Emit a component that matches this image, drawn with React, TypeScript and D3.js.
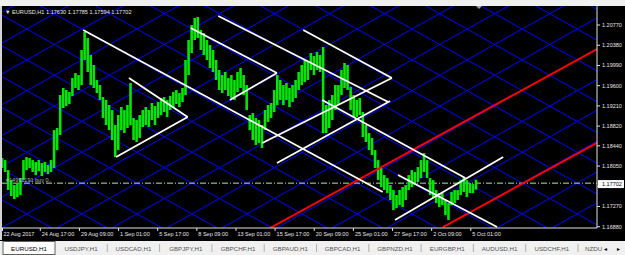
import React from "react";
import * as d3 from "d3";

const timeLabels = ["22 Aug 2017", "24 Aug 17:00", "29 Aug 09:00", "1 Sep 01:00", "5 Sep 17:00", "8 Sep 09:00", "13 Sep 01:00", "15 Sep 17:00", "20 Sep 09:00", "25 Sep 01:00", "27 Sep 17:00", "2 Oct 09:00", "5 Oct 01:00"];
const timeLabelBars = [0, 65, 129, 193, 257, 321, 385, 449, 513, 577, 641, 705, 769];
const priceTicks = [1.2077, 1.2038, 1.1999, 1.196, 1.1921, 1.1882, 1.1844, 1.1805, 1.1766, 1.1727, 1.1688];
const priceTickLabels = ["1.20770", "1.20380", "1.19990", "1.19600", "1.19210", "1.18820", "1.18440", "1.18050", "1.17660", "1.17270", "1.16880"];

const barsPerBlock = 5;
const blockHigh = [
  1.18204, 1.18165, 1.17972, 1.17779, 1.17683, 1.17722, 1.17818, 1.18165, 1.18223, 1.18204,
  1.18165, 1.18127, 1.18165, 1.18108, 1.18127, 1.18069, 1.18165, 1.18744, 1.18783, 1.19419,
  1.19555, 1.19516, 1.19477, 1.19747, 1.19844, 1.19805, 1.20288, 1.20635, 1.20519, 1.20191,
  1.19998, 1.19709, 1.19612, 1.19381, 1.19323, 1.19227, 1.1913, 1.18841, 1.19034, 1.19188,
  1.1913, 1.19227, 1.19651, 1.18976, 1.18937, 1.19034, 1.1913, 1.19188, 1.1913, 1.19265,
  1.19207, 1.19284, 1.19362, 1.19381, 1.19323, 1.194, 1.19477, 1.19516, 1.19458, 1.19555,
  1.20095, 1.2048, 1.2077, 1.20905, 1.20924, 1.20673, 1.20615, 1.2048, 1.20384, 1.20288,
  1.20095, 1.19902, 1.19805, 1.19863, 1.19747, 1.19805, 1.19709, 1.19863, 1.1994, 1.19805,
  1.19612, 1.19034, 1.19072, 1.18976, 1.18937, 1.18841, 1.1913, 1.19227, 1.19265, 1.19516,
  1.19805, 1.19709, 1.19612, 1.19651, 1.19555, 1.19612, 1.19709, 1.19863, 1.19998, 1.20095,
  1.20056, 1.2023, 1.20172, 1.20249, 1.20191, 1.20345, 1.19227, 1.19323, 1.19419, 1.19612,
  1.19612, 1.19902, 1.20037, 1.19998, 1.19574, 1.19419, 1.19323, 1.19362, 1.19092, 1.18841,
  1.18686, 1.1859, 1.18358, 1.18165, 1.18011, 1.17876, 1.17818, 1.17683, 1.17587, 1.1749,
  1.17587, 1.17645, 1.17683, 1.17876, 1.17972, 1.17934, 1.1803, 1.18165, 1.18301, 1.18165,
  1.17818, 1.17779, 1.17587, 1.17529, 1.17529, 1.17394, 1.17336, 1.17548, 1.17587, 1.17587,
  1.17779, 1.17837, 1.17779, 1.17722, 1.17702, 1.17785
];
const blockLow = [
  1.18011, 1.17934, 1.17587, 1.17471, 1.17413, 1.17452, 1.1749, 1.17779, 1.17972, 1.18011,
  1.17934, 1.17876, 1.17953, 1.17857, 1.17934, 1.17895, 1.17934, 1.18011, 1.18358, 1.18648,
  1.19169, 1.19207, 1.19246, 1.194, 1.19555, 1.19516, 1.19612, 1.20095, 1.19863, 1.19612,
  1.19555, 1.19458, 1.19323, 1.18976, 1.18841, 1.18744, 1.18551, 1.18223, 1.18358, 1.18744,
  1.18686, 1.18783, 1.18841, 1.18551, 1.18513, 1.1859, 1.18802, 1.18841, 1.18802, 1.18937,
  1.18841, 1.18976, 1.19034, 1.19092, 1.18995, 1.1913, 1.19188, 1.19246, 1.19188, 1.19284,
  1.19419, 1.19805, 1.2023, 1.2048, 1.20519, 1.20288, 1.20191, 1.20095, 1.1994, 1.19863,
  1.19709, 1.19516, 1.19458, 1.19516, 1.194, 1.19362, 1.19323, 1.19477, 1.19555, 1.19419,
  1.1913, 1.18744, 1.18551, 1.18455, 1.18494, 1.18397, 1.18744, 1.18899, 1.18976, 1.19092,
  1.19227, 1.19323, 1.19227, 1.19323, 1.19188, 1.19284, 1.19362, 1.19516, 1.19612, 1.1967,
  1.19709, 1.19902, 1.19805, 1.19902, 1.19863, 1.18686, 1.18686, 1.18783, 1.18937, 1.1913,
  1.19227, 1.19419, 1.19555, 1.19516, 1.1913, 1.18995, 1.18995, 1.19034, 1.18609, 1.18513,
  1.18358, 1.18262, 1.18011, 1.17779, 1.17645, 1.17587, 1.17529, 1.17394, 1.17201, 1.17239,
  1.17297, 1.17259, 1.17394, 1.17587, 1.17645, 1.17683, 1.17741, 1.17818, 1.17934, 1.17818,
  1.1749, 1.17452, 1.17336, 1.17259, 1.17297, 1.17104, 1.17008, 1.17297, 1.17336, 1.17394,
  1.1749, 1.17548, 1.17452, 1.17529, 1.17529, 1.17594
];

const quote = ["1.17630", "1.17785", "1.17594", "1.17702"];
const bidPrice = 1.17702;
const orderPrice = 1.1772;
const orderLabel = "#14992191 buy 0..";

// trendlines: [bar1, price1, bar2, price2]
const trendLines: number[][] = [
  [135, 1.20673, 625, 1.17548],
  [210, 1.19747, 306, 1.18995],
  [189, 1.18223, 306, 1.18995],
  [311, 1.20712, 452, 1.19844],
  [375, 1.19323, 452, 1.19844],
  [356, 1.20943, 634, 1.19284],
  [428, 1.18494, 640, 1.19747],
  [526, 1.19323, 760, 1.17818],
  [452, 1.18108, 637, 1.19304],
  [495, 1.20673, 640, 1.19747],
  [650, 1.17876, 812, 1.16873],
  [645, 1.17008, 822, 1.18223],
];
// red channel rays: [bar1, price1, bar2, price2]
const channelLines: number[][] = [
  [440.6, 1.16854, 975, 1.20301],
  [723.5, 1.16873, 975, 1.18495],
];
// Gann grid: anchor bar, anchor price, step in bars, slope in price per bar
const gannAnchorBar = 943;
const gannAnchorPrice = 1.17722;
const gannStepBars = 90;
const gannSlope = 0.000066;

const tabNames = ["EURUSD,H1", "USDJPY,H1", "USDCAD,H1", "GBPJPY,H1", "GBPCHF,H1", "GBPAUD,H1", "GBPCAD,H1", "GBPNZD,H1", "EURGBP,H1", "AUDUSD,H1", "USDCHF,H1", "NZDU"];

const PL = 2, PR = 597, PT = 6, PB = 228;
const FONT = "'Liberation Sans', Arial, sans-serif";

export default function App() {
  const x = d3.scaleLinear().domain([0, 100]).range([0.55, 0.55 + 61.15]);
  const y = d3.scaleLinear().domain([1.2077, 1.1688]).range([25, 226.7]);
  const line = d3.line<number[]>().x((d) => x(d[0])).y((d) => y(d[1]));

  const gann: number[][][] = [];
  const b0 = -200, b1 = 1200;
  for (let k = -30; k <= 30; k++) {
    const off = gannAnchorBar + k * gannStepBars;
    gann.push([[b0, gannAnchorPrice + gannSlope * (b0 - off)], [b1, gannAnchorPrice + gannSlope * (b1 - off)]]);
    gann.push([[b0, gannAnchorPrice - gannSlope * (b0 - off)], [b1, gannAnchorPrice - gannSlope * (b1 - off)]]);
  }

  const ext = (l: number[], to: number) => {
    const s = (l[3] - l[1]) / (l[2] - l[0]);
    return [[l[0], l[1]], [to, l[1] + s * (to - l[0])]];
  };

  const tabW = 52.3;
  const bw = x(barsPerBlock) - x(0);

  return (
    <svg width={625} height={255} style={{ position: "absolute", left: 0, top: 0, display: "block" }}>
      <defs>
        <clipPath id="plot">
          <rect x={PL} y={PT} width={PR - PL} height={PB - PT} />
        </clipPath>
      </defs>
      <rect x={0} y={0} width={625} height={255} fill="#000" />
      <rect x={0} y={0} width={625} height={PT} fill="#f0f0f0" />
      <rect x={0} y={PT} width={PL} height={240 - PT} fill="#d4d4d4" />

      <g clipPath="url(#plot)">
        {gann.map((g, i) => (
          <path key={"g" + i} d={line(g) || ""} stroke="#0000ff" strokeWidth={1} fill="none" />
        ))}
        <line x1={PL} x2={PR} y1={y(orderPrice)} y2={y(orderPrice)} stroke="#a8e8a8" strokeWidth={1} strokeDasharray="6,2,1,2" />
        {blockHigh.map((h, i) => {
          const cx = x(i * barsPerBlock + barsPerBlock / 2);
          return (
            <rect key={"b" + i} x={cx - bw * 0.42} y={y(h)} width={bw * 0.84} height={Math.max(1, y(blockLow[i]) - y(h))} fill="#00e800" />
          );
        })}
        {channelLines.map((l, i) => (
          <path key={"c" + i} d={line(ext(l, 1100)) || ""} stroke="#ff0000" strokeWidth={2} fill="none" />
        ))}
        {trendLines.map((l, i) => (
          <path key={"t" + i} d={line([[l[0], l[1]], [l[2], l[3]]]) || ""} stroke="#ffffff" strokeWidth={1.8} fill="none" />
        ))}
      </g>

      <text x={PL + 4} y={y(orderPrice) - 1.5} fill="#b8b8b8" fontSize={5.5} fontFamily={FONT}>{orderLabel}</text>

      <text x={5} y={13.5} fill="#e8e8e8" fontSize={5.6} fontFamily={FONT}>
        {"▼ EURUSD,H1  " + quote.join(" ")}
      </text>
      <path d="M476,6 L482,6 L479,9 Z" fill="#a0a0a0" />

      <line x1={PR} x2={PR} y1={PT} y2={PB} stroke="#e0e0e0" strokeWidth={1} />
      <line x1={PL} x2={PR} y1={PB} y2={PB} stroke="#e0e0e0" strokeWidth={1} />

      {priceTicks.map((p, i) => (
        <g key={"p" + i}>
          <line x1={PR} x2={PR + 3} y1={y(p)} y2={y(p)} stroke="#e0e0e0" strokeWidth={1} />
          <text x={PR + 5} y={y(p) + 2} fill="#e8e8e8" fontSize={5.5} fontFamily={FONT}>{priceTickLabels[i]}</text>
        </g>
      ))}
      <rect x={PR + 1} y={y(bidPrice) - 4} width={26} height={8} fill="#ffffff" />
      <text x={PR + 5} y={y(bidPrice) + 2} fill="#000" fontSize={5.5} fontFamily={FONT}>{bidPrice.toFixed(5)}</text>

      {timeLabelBars.map((b, i) => (
        <g key={"x" + i}>
          <line x1={Math.max(x(b), PL + 0.5)} x2={Math.max(x(b), PL + 0.5)} y1={PB} y2={PB + 3} stroke="#e0e0e0" strokeWidth={1} />
          <text x={Math.max(x(b), PL) + 1.5} y={236} fill="#e8e8e8" fontSize={5.5} fontFamily={FONT}>{timeLabels[i]}</text>
        </g>
      ))}

      <rect x={0} y={241} width={625} height={14} fill="#f0f0f0" />
      {tabNames.map((t, i) => {
        const x0 = i === 0 ? 3 : 55 + (i - 1) * tabW;
        const x1 = i === 0 ? 55 : 55 + i * tabW;
        const last = i === tabNames.length - 1;
        return (
          <g key={"tab" + i}>
            {i === 0 ? (
              <rect x={x0} y={241.5} width={x1 - x0} height={13} fill="#ffffff" stroke="#606060" strokeWidth={1} />
            ) : !last ? (
              <line x1={x1} x2={x1} y1={244} y2={252} stroke="#b0b0b0" strokeWidth={1} />
            ) : null}
            <text x={last ? x0 + 7 : (x0 + x1) / 2} y={250.5} fill={i === 0 ? "#000" : "#555"} fontSize={6.2} fontFamily={FONT} textAnchor={last ? "start" : "middle"}>{t}</text>
          </g>
        );
      })}
      <text x={603} y={250.5} fill="#000" fontSize={5} fontFamily={FONT}>◄</text>
      <text x={616} y={250.5} fill="#000" fontSize={5} fontFamily={FONT}>►</text>
    </svg>
  );
}
